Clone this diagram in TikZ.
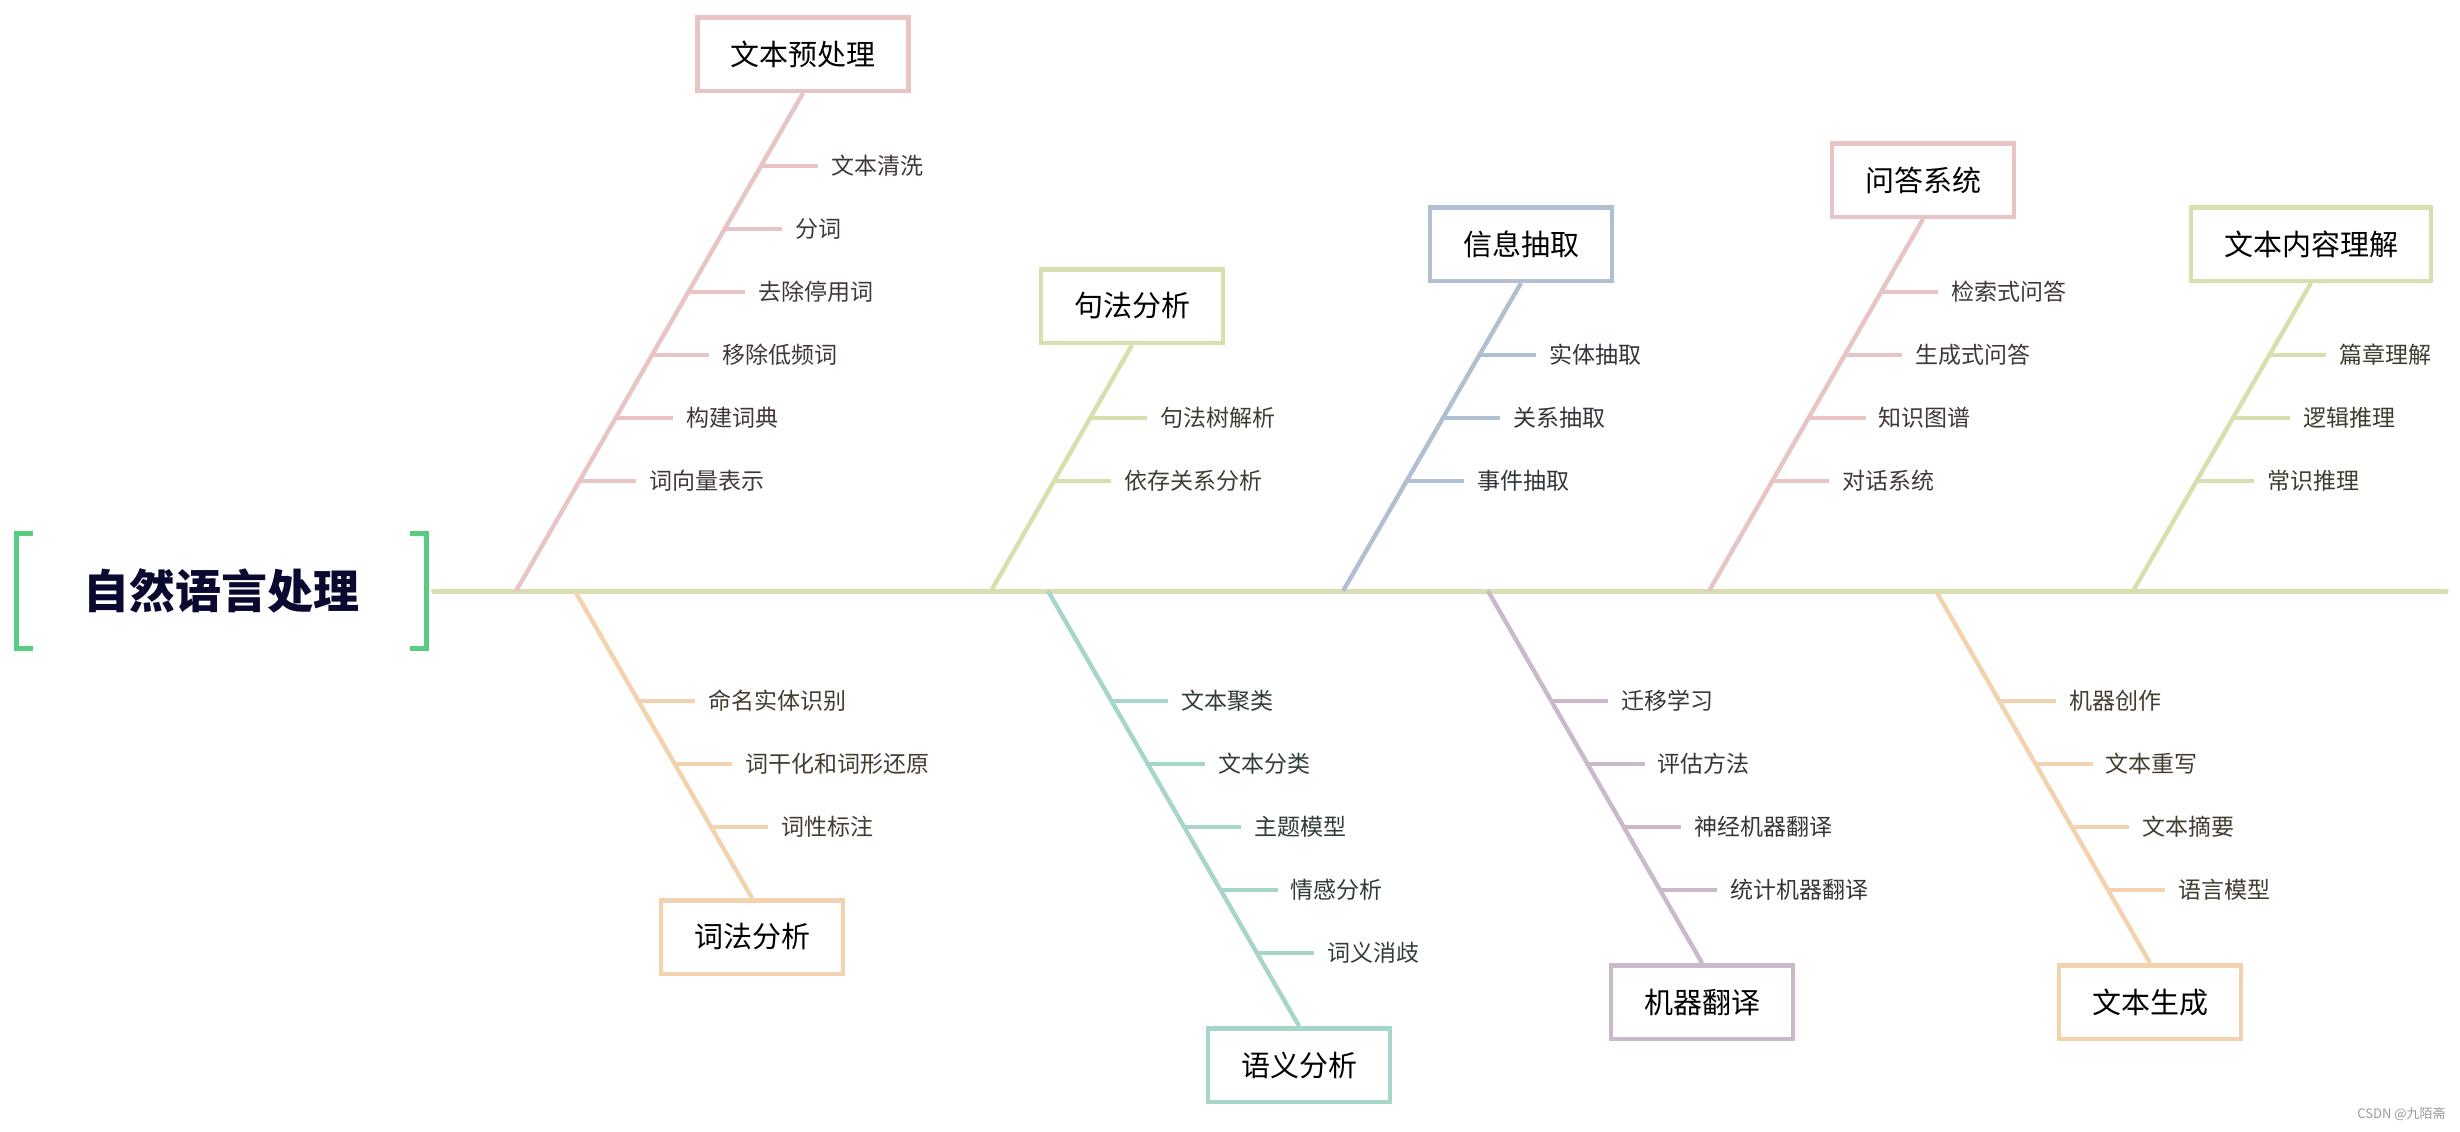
\documentclass[tikz,border=0pt]{standalone}
\usepackage{fontspec}
\setmainfont{Noto Sans CJK SC}
\usetikzlibrary{calc}
\definecolor{pinkc}{HTML}{E8C4C4}
\definecolor{olivec}{HTML}{D8DEAE}
\definecolor{spinec}{HTML}{D9DDB2}
\definecolor{bluec}{HTML}{B0C0D2}
\definecolor{peachc}{HTML}{F3D3AF}
\definecolor{mintc}{HTML}{A8D5C9}
\definecolor{lavc}{HTML}{C9B9CB}
\definecolor{greenc}{HTML}{58CC80}
\definecolor{navyc}{HTML}{0A0A30}
\tikzset{
  box/.style={draw=#1, line width=2.25pt, inner xsep=16.4pt, inner ysep=0pt,
    minimum height=36.75pt, font=\fontsize{14.5}{16}\selectfont, text=black},
  bline/.style={draw=#1, line width=2.2pt},
  tickline/.style={draw=#1, line width=1.6pt},
  item/.style={inner sep=0pt, anchor=west, font=\fontsize{11.5}{13}\selectfont, text=#1!28!black},
  rootnode/.style={minimum width=204.5pt, minimum height=57.5pt, inner sep=0pt,
    font=\fontsize{23}{26}\selectfont\bfseries, text=navyc},
  bracketline/.style={draw=greenc, line width=2.5pt},
  spineline/.style={draw=spinec, line width=2.5pt, line cap=round},
}
\newcommand\fishbranch[7]{%
  \node[box=#2] (b#1) at (#4) {#5};
  \coordinate (s#1) at (#3,591);
  \draw[bline=#2] (s#1) -- (b#1.#6);
  \foreach \y/\t [count=\i] in {#7}{
    \coordinate (p#1-\i) at (intersection of s#1--b#1.#6 and 0,\y--1,\y);
    \node[item=#2] (i#1-\i) at ([xshift=35pt]p#1-\i) {\t};
    \draw[tickline=#2] (p#1-\i) -- ([xshift=-6.5pt]i#1-\i.west);
  }
}
\begin{document}
\begin{tikzpicture}[x=0.5pt,y=-0.5pt]
\useasboundingbox (0,0) rectangle (2460,1131);
% root
\node[rootnode] (root) at (221.5,591) {自然语言处理};
\draw[bracketline] ([xshift=8pt]root.north west) -- (root.north west) -- (root.south west) -- ([xshift=8pt]root.south west);
\draw[bracketline] ([xshift=-8pt]root.north east) -- (root.north east) -- (root.south east) -- ([xshift=-8pt]root.south east);
\coordinate (spineend) at (2446,591);
\draw[spineline] ([xshift=3.5pt]root.east) -- (spineend);
% top branches
\fishbranch{1}{pinkc}{516}{803,54}{文本预处理}{south}{166/文本清洗,229/分词,292/去除停用词,355/移除低频词,418/构建词典,481/词向量表示}
\fishbranch{2}{olivec}{991}{1132,306}{句法分析}{south}{418/句法树解析,481/依存关系分析}
\fishbranch{3}{bluec}{1343}{1521,244}{信息抽取}{south}{355/实体抽取,418/关系抽取,481/事件抽取}
\fishbranch{4}{pinkc}{1709}{1923,180}{问答系统}{south}{292/检索式问答,355/生成式问答,418/知识图谱,481/对话系统}
\fishbranch{5}{olivec}{2133}{2311,244}{文本内容理解}{south}{355/篇章理解,418/逻辑推理,481/常识推理}
% bottom branches
\fishbranch{6}{peachc}{575}{752,937}{词法分析}{north}{701/命名实体识别,764/词干化和词形还原,827/词性标注}
\fishbranch{7}{mintc}{1048}{1299,1065}{语义分析}{north}{701/文本聚类,764/文本分类,827/主题模型,890/情感分析,953/词义消歧}
\fishbranch{8}{lavc}{1488}{1702,1002}{机器翻译}{north}{701/迁移学习,764/评估方法,827/神经机器翻译,890/统计机器翻译}
\fishbranch{9}{peachc}{1936}{2150,1002}{文本生成}{north}{701/机器创作,764/文本重写,827/文本摘要,890/语言模型}
% watermark
\node[anchor=east, inner sep=0pt, font=\fontsize{6.5}{8}\selectfont, text=black!40] (wm) at (2446,1114) {CSDN @九陌斋};
\end{tikzpicture}
\end{document}
